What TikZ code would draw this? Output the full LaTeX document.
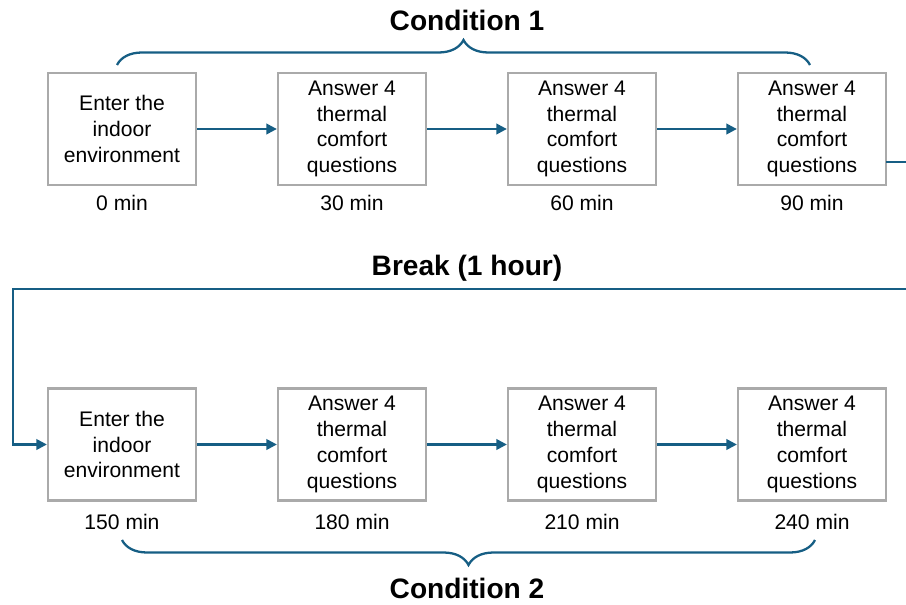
\documentclass[tikz,border=0pt]{standalone}
\usepackage{fontspec}
\setmainfont{Liberation Sans}
\usetikzlibrary{arrows.meta,decorations.pathreplacing}
\definecolor{flowblue}{RGB}{22,94,132}
\definecolor{boxgray}{RGB}{170,170,170}
\tikzset{
  stepbox/.style={draw=boxgray, line width=1.3pt, fill=white, minimum width=2.96cm,
    minimum height=2.24cm, align=center, inner sep=2pt, font=\fontsize{12}{14.7}\selectfont},
  timelabel/.style={font=\fontsize{12}{14}\selectfont},
  heading/.style={font=\fontsize{16}{19}\selectfont\bfseries},
  flow/.style={draw=flowblue, line width=1.3pt, -{Triangle[length=6pt,width=6pt]}},
  bracket/.style={draw=flowblue, line width=1.3pt, decorate, decoration={brace, amplitude=0.5cm}}
}
\begin{document}
\begin{tikzpicture}[x=0.02cm, y=-0.02cm]
            \useasboundingbox (0,0) rectangle (906,605);
            \node[stepbox] (e1) at (122,129) {Enter the\\indoor\\environment};
            \node[stepbox] (f1) at (122,444.5) {Enter the\\indoor\\environment};
            \foreach \i/\x in {2/352,3/582,4/812} {
                \node[stepbox] (e\i) at (\x,129) {Answer 4\\thermal\\comfort\\questions};
                \node[stepbox] (f\i) at (\x,444.5) {Answer 4\\thermal\\comfort\\questions};
            }
            \foreach \i/\x/\t/\s in {1/122/0/150,2/352/30/180,3/582/60/210,4/812/90/240} {
                \node[timelabel] (te\i) at (\x,203) {\t{} min};
                \node[timelabel] (tf\i) at (\x,522) {\s{} min};
            }
            \foreach \a/\b in {1/2,2/3,3/4} {
                \draw[flow] (e\a) -- (e\b);
                \draw[flow] (f\a) -- (f\b);
            }
            \coordinate (exit) at (886,162);
            \draw[flow] (exit) -- (930,162) -- (930,289) -- (13,289) |- (f1.west);
            \draw[bracket] (117,65) -- (810,65);
            \draw[bracket] (815,540) -- (122,540);
            \node[heading] (cond1) at (467,20) {Condition 1};
            \node[heading] (brk) at (467,268) {Break (1 hour)};
            \node[heading] (cond2) at (467,588) {Condition 2};
\end{tikzpicture}
\end{document}
